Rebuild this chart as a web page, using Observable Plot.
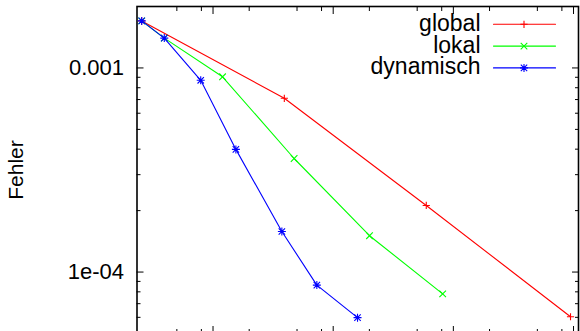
<!DOCTYPE html>
<html><head><meta charset="utf-8">
<script src="https://cdn.jsdelivr.net/npm/d3@7"></script>
<script src="https://cdn.jsdelivr.net/npm/@observablehq/plot@0.6"></script>
<style>
html,body{margin:0;padding:0;overflow:hidden;background:#fff;}
</style></head><body><div id="chart"></div>
<script>
// ---- data ----
const seriesNames = ["global", "lokal", "dynamisch"];
const seriesColors = ["#ff0000", "#00ff00", "#0000ff"];
const globalX = [25.5, 392, 5950, 94400];
const globalY = [1.70e-3, 7.1e-4, 2.12e-4, 6.04e-5];
const lokalX = [25.5, 39.3, 120, 473, 2006, 8150];
const lokalY = [1.70e-3, 1.40e-3, 9.05e-4, 3.6e-4, 1.507e-4, 7.82e-5];
const dynamischX = [25.5, 39.3, 79, 155, 374, 731, 1594];
const dynamischY = [1.70e-3, 1.40e-3, 8.7e-4, 3.99e-4, 1.58e-4, 8.63e-5, 5.98e-5];
const yMajorTicks = [1e-3, 1e-4];
const yTickLabels = ["0.001", "1e-04"];
const yMinorTicks = [9e-4, 8e-4, 7e-4, 6e-4, 5e-4, 4e-4, 3e-4, 2e-4, 9e-5, 8e-5, 7e-5, 6e-5];
const xMajorTicks = [100, 1000, 10000, 100000];
const xMinorTicks = [50, 80, 200, 500, 800, 2000, 5000, 8000, 20000, 50000, 80000];
const yLabel = "Fehler";

// ---- symbols (gnuplot-like +, x, *) ----
const rad = s => Math.sqrt(s / Math.PI);
const symPlus = {draw(c, s) { const r = rad(s); c.moveTo(-r, 0); c.lineTo(r, 0); c.moveTo(0, -r); c.lineTo(0, r); }};
const symTimes = {draw(c, s) { const r = rad(s); c.moveTo(-r, -r); c.lineTo(r, r); c.moveTo(-r, r); c.lineTo(r, -r); }};
const symStar = {draw(c, s) { symPlus.draw(c, s); const r = rad(s) * 0.8; c.moveTo(-r, -r); c.lineTo(r, r); c.moveTo(-r, r); c.lineTo(r, -r); }};
const symbols = [symPlus, symTimes, symStar];
const symR = [3.6, 3.3, 4];

const toRows = (xs, ys) => xs.map((x, i) => ({x, y: ys[i]}));
const seriesRows = [toRows(globalX, globalY), toRows(lokalX, lokalY), toRows(dynamischX, dynamischY)];

const lineShape = {draw(c, l) { c.moveTo(0, 0); c.lineTo(0, -l); }};
const tickFont = 22;
const legendFont = 23;
const labelFont = 21;

const dataMarks = seriesRows.flatMap((rows, i) => [
  Plot.line(rows, {x: "x", y: "y", stroke: seriesColors[i], strokeWidth: 1.1}),
  Plot.dot(rows, {x: "x", y: "y", stroke: seriesColors[i], symbol: symbols[i], r: symR[i], strokeWidth: 1.1})
]);

const legendMarks = seriesNames.flatMap((name, i) => {
  const dy = 17.8 + i * 21.8;
  return [
    Plot.text([name], {frameAnchor: "top-right", lineAnchor: "middle", dx: -98, dy: dy - 0.8, text: d => d, textAnchor: "end", fontSize: legendFont, fill: "black"}),
    Plot.vector([name], {frameAnchor: "top-right", dx: -85, dy, length: 62, rotate: 90, anchor: "start", shape: lineShape, stroke: seriesColors[i], strokeWidth: 1.1}),
    Plot.dot([name], {frameAnchor: "top-right", dx: -54.5, dy, symbol: symbols[i], r: symR[i], stroke: seriesColors[i], strokeWidth: 1.1})
  ];
});

const tickStyle = {label: null, fill: "none", tickFormat: () => "", stroke: "black", strokeWidth: 1};
const axisMarks = [
  Plot.axisY(yMajorTicks, {anchor: "left", tickSize: 0, tickPadding: 13, tickFormat: d => yTickLabels[yMajorTicks.indexOf(d)], fontSize: tickFont, fill: "black", label: null}),
  Plot.axisY(yMajorTicks, {anchor: "left", tickSize: -7, ...tickStyle}),
  Plot.axisY(yMinorTicks, {anchor: "left", tickSize: -4, ...tickStyle}),
  Plot.axisY(yMajorTicks, {anchor: "right", tickSize: -7, ...tickStyle}),
  Plot.axisY(yMinorTicks, {anchor: "right", tickSize: -4, ...tickStyle}),
  Plot.axisX(xMajorTicks, {anchor: "bottom", tickSize: -7, ...tickStyle}),
  Plot.axisX(xMinorTicks, {anchor: "bottom", tickSize: -4, ...tickStyle}),
  Plot.axisX(xMajorTicks, {anchor: "top", tickSize: -7, ...tickStyle}),
  Plot.axisX(xMinorTicks, {anchor: "top", tickSize: -4, ...tickStyle}),
  Plot.text([yLabel], {frameAnchor: "left", lineAnchor: "middle", dx: -120.5, rotate: -90, text: d => d, textAnchor: "middle", fontSize: labelFont, fill: "black"})
];

const chart = Plot.plot({
  width: 580,
  height: 340,
  marginLeft: 136.5,
  marginRight: 2,
  marginTop: 6,
  marginBottom: 7,
  style: {fontFamily: "'Liberation Sans', Arial, Helvetica, sans-serif", fontSize: tickFont + "px", background: "#fff", color: "black"},
  x: {type: "log", domain: [23.3, 110000], label: null},
  y: {type: "log", domain: [5e-5, 2e-3], label: null},
  marks: [
    Plot.frame({stroke: "black", strokeWidth: 1.6}),
    ...axisMarks,
    ...dataMarks,
    ...legendMarks
  ]
});
document.getElementById("chart").appendChild(chart);
</script>
</body></html>
